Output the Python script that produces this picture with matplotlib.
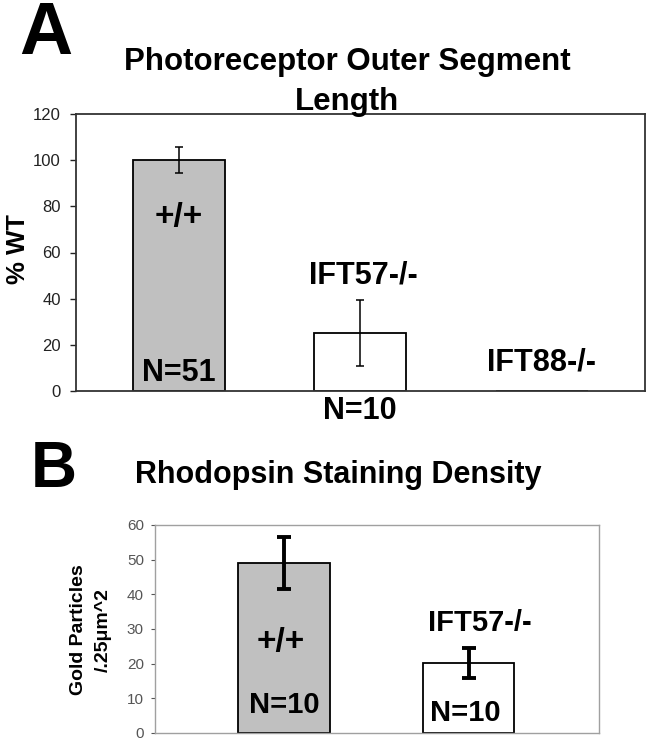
import matplotlib; matplotlib.use("Agg")
import matplotlib.pyplot as plt

# panel A data
a_groups = ["+/+", "IFT57-/-", "IFT88-/-"]
a_values = [100, 25, 0]
a_errors = [5.5, 14.3, 0]
a_colors = ["#c0c0c0", "white", "white"]
a_n = ["N=51", "N=10", ""]

# panel B data
b_groups = ["+/+", "IFT57-/-"]
b_values = [49, 20.2]
b_errors = [7.5, 4.2]
b_colors = ["#c0c0c0", "white"]
b_n = ["N=10", "N=10"]

W, H = 653, 751
fig = plt.figure(figsize=(W/100, H/100), dpi=100)
fig.patch.set_facecolor("white")
FR = ["Liberation Sans", "DejaVu Sans"]

def pxax(l, t, r, b):
    return fig.add_axes([l/W, 1-b/H, (r-l)/W, (b-t)/H])

# ---------- A ----------
ax = pxax(76, 114, 645, 391)
x = list(range(len(a_groups)))
ax.bar(x, a_values, width=0.507, color=a_colors, edgecolor="black", lw=1.3, zorder=2)
ax.errorbar(x[:2], a_values[:2], yerr=a_errors[:2], fmt="none", ecolor="black",
            elinewidth=1.1, capsize=3, capthick=1.1, zorder=3)
ax.set_xlim(-0.565, 2.57); ax.set_ylim(0, 120)
ax.set_yticks(range(0, 121, 20))
ax.set_xticks([])
ax.tick_params(axis="y", length=4, width=1, labelsize=12, colors="#222", pad=7)
for s in ax.spines.values():
    s.set_linewidth(1.3); s.set_color("#333")
for lab in ax.get_yticklabels():
    lab.set_family(FR)
ax.text(0, 75, a_groups[0], ha="center", va="center", fontsize=24, fontweight="bold", family=FR)
ax.text(0, 8, a_n[0], ha="center", va="center", fontsize=22, fontweight="bold", family=FR)
ax.text(1.02, 50, a_groups[1], ha="center", va="center", fontsize=22, fontweight="bold", family=FR)
ax.text(2.0, 12.5, a_groups[2], ha="center", va="center", fontsize=22, fontweight="bold", family=FR)
ax.text(1, -8.5, a_n[1], ha="center", va="center", fontsize=22, fontweight="bold", family=FR,
        clip_on=False)
fig.text(18/W, 1-249/H, "% WT", rotation=90, ha="center", va="center", fontsize=18.5,
         fontweight="bold", family=FR)

fig.text(46/W, 1-34/H, "A", ha="center", va="center", fontsize=53, fontweight="bold", family=FR)
fig.text(347/W, 1-82/H, "Photoreceptor Outer Segment\nLength", ha="center", va="center",
         fontsize=22.5, fontweight="bold", family=FR, linespacing=1.45)

# ---------- B ----------
bx = pxax(155, 525, 599, 733)
xb = list(range(len(b_groups)))
bx.bar(xb, b_values, width=0.496, color=b_colors, edgecolor="black", lw=1.3, zorder=2)
bx.errorbar(xb, b_values, yerr=b_errors, fmt="none", ecolor="black",
            elinewidth=2.8, capsize=5.3, capthick=2.8, zorder=3)
bx.set_xlim(-0.70, 1.707); bx.set_ylim(0, 60)
bx.set_yticks(range(0, 61, 10))
bx.set_xticks([])
bx.tick_params(axis="y", length=3, width=0.8, labelsize=11, colors="#555", pad=5)
for s in bx.spines.values():
    s.set_linewidth(1); s.set_color("#a0a0a0")
for lab in bx.get_yticklabels():
    lab.set_family(FR)
bx.text(-0.02, 26, b_groups[0], ha="center", va="center", fontsize=24, fontweight="bold", family=FR)
bx.text(0.0, 8.1, b_n[0], ha="center", va="center", fontsize=21, fontweight="bold", family=FR)
bx.text(1.06, 31.7, b_groups[1], ha="center", va="center", fontsize=21, fontweight="bold", family=FR)
bx.text(0.98, 5.8, b_n[1], ha="center", va="center", fontsize=21, fontweight="bold", family=FR)
fig.text(91/W, 1-630/H, "Gold Particles\n/.25\u03bcm^2", rotation=90, ha="center", va="center",
         fontsize=14, fontweight="bold", family=FR, linespacing=1.55)

fig.text(54/W, 1-470/H, "B", ha="center", va="center", fontsize=46, fontweight="bold", family=FR)
fig.text(338/W, 1-475/H, "Rhodopsin Staining Density", ha="center", va="center",
         fontsize=22, fontweight="bold", family=FR)

fig.savefig("out.png", dpi=100)
